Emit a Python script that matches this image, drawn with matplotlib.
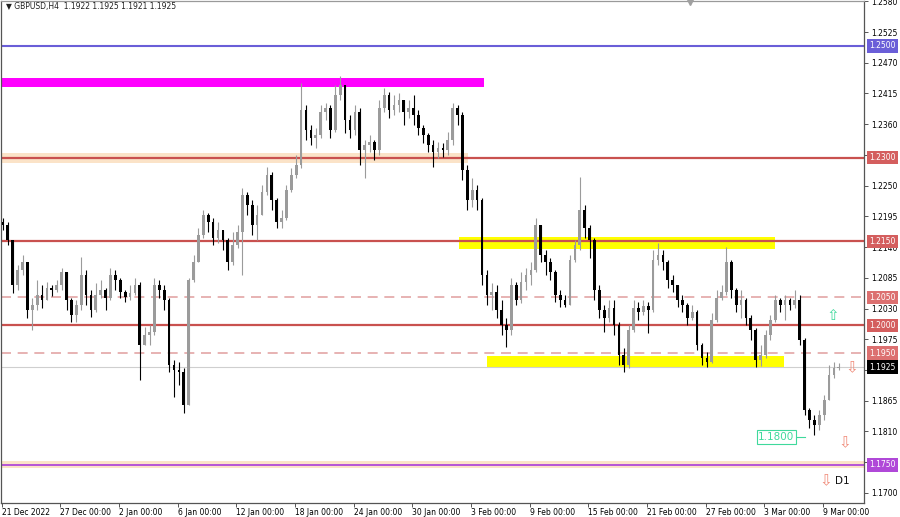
import numpy as np
import matplotlib
matplotlib.use("Agg")
import matplotlib.pyplot as plt
from matplotlib.patches import Rectangle

# ---------------- Data (8h candles) ----------------
open0 = 1.2185
closes = [1.2180, 1.2153, 1.2072, 1.2099, 1.2113, 1.2027, 1.2036, 1.2054, 1.2045, 1.2067,
          1.2063, 1.2072, 1.2095, 1.2045, 1.2018, 1.2036, 1.2090, 1.2054, 1.2027, 1.2054,
          1.2063, 1.2049, 1.2090, 1.2081, 1.2060, 1.2051, 1.2058, 1.2072, 1.1965, 1.1983,
          1.1988, 1.2072, 1.2063, 1.2045, 1.1929, 1.1920, 1.1916, 1.1857, 1.2081, 1.2113,
          1.2162, 1.2197, 1.2185, 1.2156, 1.2171, 1.2153, 1.2113, 1.2144, 1.2167, 1.2233,
          1.2215, 1.2180, 1.2197, 1.2239, 1.2269, 1.2224, 1.2185, 1.2192, 1.2242, 1.2269,
          1.2287, 1.2385, 1.2350, 1.2335, 1.2341, 1.2382, 1.2389, 1.2350, 1.2412, 1.2430,
          1.2368, 1.2350, 1.2382, 1.2314, 1.2323, 1.2328, 1.2314, 1.2389, 1.2412, 1.2385,
          1.2394, 1.2403, 1.2382, 1.2389, 1.2376, 1.2353, 1.2341, 1.2323, 1.2310, 1.2317,
          1.2314, 1.2332, 1.2389, 1.2376, 1.2278, 1.2224, 1.2242, 1.2224, 1.2090, 1.2054,
          1.2060, 1.2027, 1.2001, 1.1992, 1.2072, 1.2045, 1.2078, 1.2090, 1.2099, 1.2180,
          1.2126, 1.2113, 1.2095, 1.2054, 1.2045, 1.2036, 1.2117, 1.2144, 1.2206, 1.2174,
          1.2153, 1.2063, 1.2027, 1.2013, 1.2031, 1.2001, 1.1947, 1.1929, 1.1992, 1.2031,
          1.2024, 1.2035, 1.2027, 1.2117, 1.2126, 1.2113, 1.2081, 1.2072, 1.2045, 1.2036,
          1.2013, 1.2024, 1.1965, 1.1941, 1.1934, 1.2010, 1.2049, 1.2060, 1.2113, 1.2063,
          1.2036, 1.2045, 1.2013, 1.1992, 1.1938, 1.1947, 1.1983, 1.2010, 1.2045, 1.2036,
          1.2045, 1.2036, 1.2045, 1.1974, 1.1848, 1.1831, 1.1822, 1.1839, 1.1866, 1.1911,
          1.1924, 1.1925]
highs = [1.2192, 1.2185, 1.2153, 1.2108, 1.2126, 1.2113, 1.2049, 1.2081, 1.2072, 1.2078,
         1.2072, 1.2081, 1.2102, 1.2095, 1.2049, 1.2045, 1.2122, 1.2099, 1.2063, 1.2076,
         1.2081, 1.2067, 1.2102, 1.2099, 1.2085, 1.2063, 1.2072, 1.2085, 1.2078, 1.1997,
         1.2001, 1.2085, 1.2081, 1.2072, 1.2049, 1.1938, 1.1934, 1.1924, 1.2085, 1.2126,
         1.2174, 1.2206, 1.2201, 1.2192, 1.2185, 1.2171, 1.2156, 1.2167, 1.2180, 1.2246,
         1.2239, 1.2224, 1.2215, 1.2251, 1.2283, 1.2274, 1.2228, 1.2206, 1.2251, 1.2282,
         1.2305, 1.2434, 1.2394, 1.2359, 1.2353, 1.2394, 1.2398, 1.2394, 1.2430, 1.2446,
         1.2430, 1.2376, 1.2394, 1.2389, 1.2332, 1.2341, 1.2332, 1.2403, 1.2425, 1.2418,
         1.2412, 1.2416, 1.2403, 1.2403, 1.2412, 1.2385, 1.2359, 1.2344, 1.2332, 1.2328,
         1.2327, 1.2346, 1.2398, 1.2394, 1.2382, 1.2287, 1.2264, 1.2251, 1.2228, 1.2099,
         1.2076, 1.2072, 1.2045, 1.2013, 1.2085, 1.2078, 1.2095, 1.2102, 1.2113, 1.2192,
         1.2180, 1.2135, 1.2120, 1.2099, 1.2063, 1.2054, 1.2126, 1.2153, 1.2265, 1.2215,
         1.2180, 1.2156, 1.2072, 1.2036, 1.2045, 1.2045, 1.2006, 1.1959, 1.2001, 1.2045,
         1.2042, 1.2045, 1.2042, 1.2135, 1.2147, 1.2135, 1.2117, 1.2090, 1.2072, 1.2054,
         1.2040, 1.2036, 1.2027, 1.1968, 1.1952, 1.2022, 1.2063, 1.2072, 1.2140, 1.2117,
         1.2067, 1.2063, 1.2049, 1.2018, 1.1995, 1.1965, 1.1992, 1.2018, 1.2054, 1.2049,
         1.2054, 1.2049, 1.2063, 1.2054, 1.1977, 1.1852, 1.1839, 1.1848, 1.1875, 1.1929,
         1.1934, 1.1932]
lows = [1.2171, 1.2144, 1.2058, 1.2063, 1.2090, 1.2013, 1.1992, 1.2027, 1.2031, 1.2049,
        1.2052, 1.2060, 1.2063, 1.2027, 1.2006, 1.2006, 1.2027, 1.2036, 1.2015, 1.2024,
        1.2049, 1.2027, 1.2045, 1.2063, 1.2049, 1.2042, 1.2045, 1.2054, 1.1902, 1.1965,
        1.1965, 1.1983, 1.2049, 1.2027, 1.1916, 1.1872, 1.1893, 1.1843, 1.1857, 1.2078,
        1.2113, 1.2156, 1.2167, 1.2144, 1.2147, 1.2135, 1.2099, 1.2108, 1.2138, 1.2090,
        1.2197, 1.2162, 1.2153, 1.2197, 1.2233, 1.2206, 1.2174, 1.2174, 1.2189, 1.2239,
        1.2264, 1.2282, 1.2332, 1.2323, 1.2317, 1.2335, 1.2368, 1.2335, 1.2346, 1.2403,
        1.2344, 1.2335, 1.2341, 1.2287, 1.2264, 1.2310, 1.2296, 1.2305, 1.2382, 1.2371,
        1.2376, 1.2382, 1.2359, 1.2371, 1.2359, 1.2341, 1.2327, 1.2310, 1.2283, 1.2299,
        1.2301, 1.2305, 1.2323, 1.2359, 1.2260, 1.2206, 1.2212, 1.2206, 1.2072, 1.2036,
        1.2027, 1.2013, 1.1983, 1.1961, 1.1983, 1.2036, 1.2040, 1.2063, 1.2072, 1.2095,
        1.2113, 1.2090, 1.2081, 1.2042, 1.2033, 1.2033, 1.2036, 1.2113, 1.2135, 1.2156,
        1.2120, 1.2045, 1.2013, 1.1988, 1.2006, 1.1983, 1.1929, 1.1916, 1.1924, 1.1988,
        1.2010, 1.2018, 1.1986, 1.2024, 1.2108, 1.2099, 1.2067, 1.2060, 1.2033, 1.2024,
        1.2001, 1.2010, 1.1956, 1.1929, 1.1925, 1.1932, 1.2006, 1.2045, 1.2054, 1.2049,
        1.2024, 1.2013, 1.2001, 1.1974, 1.1925, 1.1927, 1.1941, 1.1974, 1.2006, 1.2024,
        1.2010, 1.2027, 1.2031, 1.1965, 1.1839, 1.1816, 1.1804, 1.1813, 1.1831, 1.1866,
        1.1906, 1.1920]

date_labels = ["21 Dec 2022", "27 Dec 00:00", "2 Jan 00:00", "6 Jan 00:00", "12 Jan 00:00",
               "18 Jan 00:00", "24 Jan 00:00", "30 Jan 00:00", "3 Feb 00:00", "9 Feb 00:00",
               "15 Feb 00:00", "21 Feb 00:00", "27 Feb 00:00", "3 Mar 00:00", "9 Mar 00:00"]
price_ticks = [1.1700, 1.1755, 1.1810, 1.1865, 1.1920, 1.1975, 1.2030, 1.2085, 1.2140,
               1.2195, 1.2250, 1.2305, 1.2360, 1.2415, 1.2470, 1.2525, 1.2580]

# levels drawn on the chart
red_levels = [1.2300, 1.2150, 1.2000]
dashed_levels = [1.2050, 1.1950]
level_blue = 1.2500
level_purple = 1.1750
current_price = 1.1925
target_label = 1.1800

# ---------------- Figure ------------------------
W, H = 900, 517
fig = plt.figure(figsize=(W / 100, H / 100), dpi=100)
fig.patch.set_facecolor("white")
ax = fig.add_axes([1 / W, 14 / H, 863 / W, 502 / H])
ax.set_xlim(-0.3, 352.8)
ax.set_ylim(1.16819, 1.25805)

FS = 5.5
RED = "#c9514f"

# zones
ax.add_patch(Rectangle((-1, 1.2427), 198.3, 0.0016, color="#ff00ff", lw=0, zorder=1))
ax.add_patch(Rectangle((-1, 1.2290), 191.8, 0.0018, color="#fbe3c8", lw=0, zorder=1))
ax.add_patch(Rectangle((187.1, 1.2137), 129.3, 0.0021, color="#ffff00", lw=0, zorder=1))
ax.add_patch(Rectangle((198.6, 1.1924), 121.5, 0.0021, color="#ffff00", lw=0, zorder=1))
ax.add_patch(Rectangle((-1, 1.1745), 360, 0.0012, color="#fbe3c8", lw=0, zorder=1))

# lines
ax.axhline(level_blue, color="#6a5ed8", lw=1.5, zorder=2)
for lv in red_levels:
    ax.axhline(lv, color=RED, lw=1.6, zorder=2)
for lv in dashed_levels:
    ax.axhline(lv, color="#e3a6a6", lw=1.2, dashes=(6, 4), zorder=2)
ax.axhline(current_price, color="#cfcfcf", lw=0.8, zorder=2)
ax.axhline(level_purple, color="#b048d8", lw=1.3, zorder=2)

# ---------------- Candles ------------------------
opens = [open0] + closes[:-1]
xs = np.arange(len(closes)) * 2 + 0.5
for x, o, h, l, c in zip(xs, opens, highs, lows, closes):
    up = c >= o
    col = "#9b9b9b" if up else "#000000"
    h = max(h, o, c)
    l = min(l, o, c)
    ax.vlines(x, l, h, color=col, lw=0.8, zorder=3)
    body = max(abs(c - o), 0.00008)
    ax.add_patch(Rectangle((x - 0.55, min(o, c)), 1.1, body, color=col, lw=0, zorder=3))

# ---------------- Annotations ------------------------
ax.text(4 / 2.444, 1.25805 - 6 * 0.000179, "\u25bc GBPUSD,H4  1.1922 1.1925 1.1921 1.1925",
        fontsize=FS, va="center", ha="left", color="#202020", zorder=6)
ax.plot([281.6], [1.2578], marker="v", ms=4, color="#a0a0a0", clip_on=False, zorder=6)

ax.text(309.5, target_label, "1.1800", fontsize=7.5, color="#3fd99c", va="center", ha="left",
        bbox=dict(boxstyle="square,pad=0.15", fc="white", ec="#3fd99c", lw=0.8), zorder=6)
ax.plot([325.3, 328.5], [target_label, target_label], color="#3fd99c", lw=0.8, zorder=6)

ARW = 11
ax.text(340.0, 1.2018, "\u21e7", fontsize=ARW, color="#3fd99c", ha="center", va="center", zorder=6)
ax.text(348.0, 1.1924, "\u21e9", fontsize=ARW, color="#f08a78", ha="center", va="center", zorder=6)
ax.text(345.0, 1.1789, "\u21e9", fontsize=ARW, color="#f08a78", ha="center", va="center", zorder=6)
ax.text(337.3, 1.1722, "\u21e9", fontsize=ARW, color="#f08a78", ha="center", va="center", zorder=6)
ax.text(340.8, 1.1722, "D1", fontsize=7.5, color="#101010", ha="left", va="center", zorder=6)

# ---------------- Axes styling ------------------------
for s in ax.spines.values():
    s.set_color("#555555")
    s.set_linewidth(0.9)
ax.spines["top"].set_color("#9a9a9a")

ax.set_xticks(np.arange(len(date_labels)) * 24)
ax.set_xticklabels(date_labels, fontsize=FS, ha="left")
ax.yaxis.tick_right()
ax.set_yticks(price_ticks)
ax.set_yticklabels(["%.4f" % v for v in price_ticks], fontsize=FS)
ax.tick_params(axis="both", length=3, width=0.7, color="#555555", pad=2)
ax.tick_params(axis="x", pad=0.5)

# price tags on the right scale
tags = [(1.2500, "#6a5ed8"), (1.2300, "#d45e5e"), (1.2150, "#d45e5e"), (1.2050, "#dc7070"),
        (1.2000, "#d45e5e"), (1.1950, "#dc7070"), (1.1925, "#000000"), (1.1750, "#b048d8")]
for val, fc in tags:
    ax.annotate("%.4f" % val, xy=(1.0063, val), xycoords=("axes fraction", "data"),
                fontsize=FS, color="white", va="center", ha="left",
                bbox=dict(boxstyle="square,pad=0.3", fc=fc, ec="none"),
                annotation_clip=False, zorder=7)

ax.set_facecolor("white")
plt.grid(False)
plt.savefig("out.png", dpi=100)
